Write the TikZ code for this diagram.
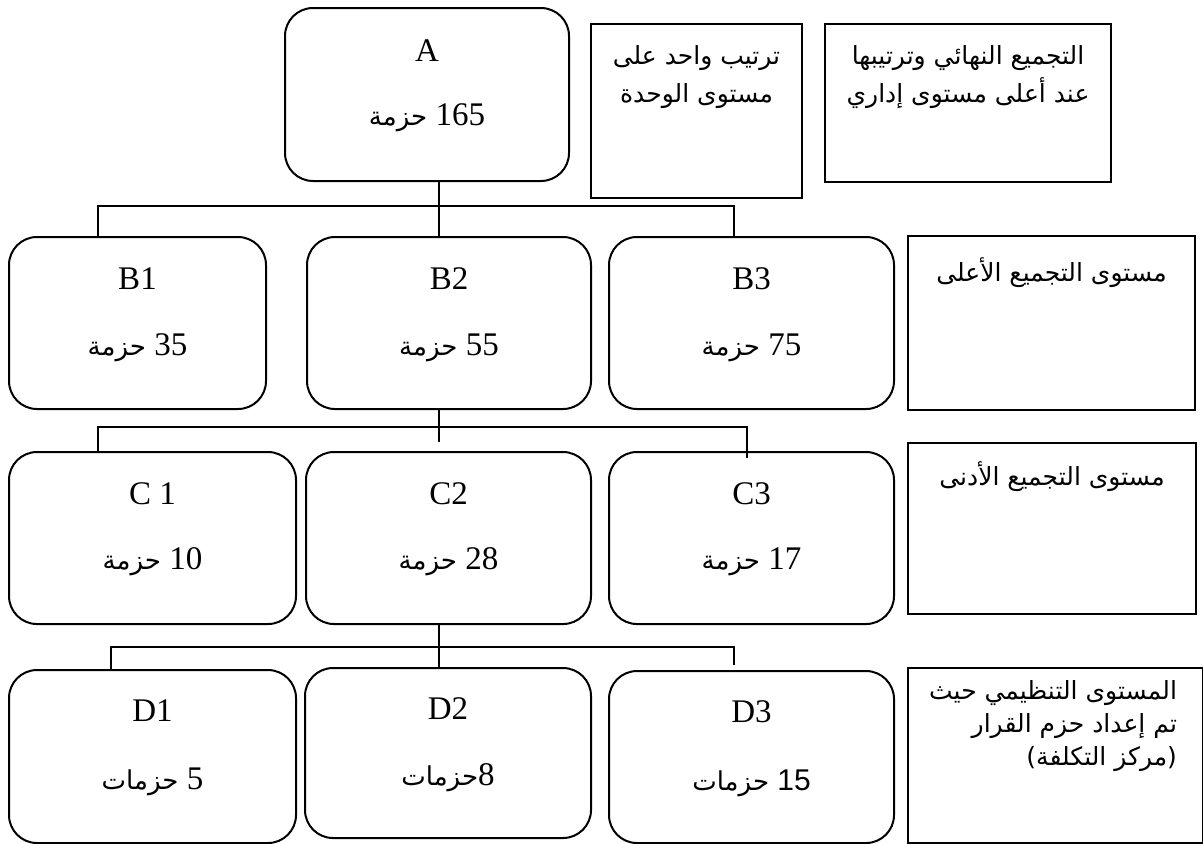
\documentclass[tikz,border=0pt]{standalone}
\usepackage{fontspec}
\setmainfont{Liberation Serif}
\newfontfamily\arabicfont[Script=Arabic]{DejaVu Sans}
\newfontfamily\numsans{Liberation Sans}
\TeXXeTstate=1
\usetikzlibrary{positioning}

\newcommand{\hzn}[1]{\beginL{\rmfamily\fontsize{16.5}{20}\selectfont #1}\endL}

\tikzset{
  lvl/.style={draw, line width=1pt, rounded corners=14pt, anchor=north west, inner sep=0pt},
  note/.style={draw, line width=1pt, anchor=north west, inner sep=0pt},
  ttl/.style={anchor=base, font=\fontsize{16.5}{20}\selectfont},
  num/.style={anchor=base, font=\arabicfont\fontsize{13}{16}\selectfont},
  notetxt/.style={anchor=north, align=center, font=\arabicfont\fontsize{12.5}{19}\selectfont},
  link/.style={line width=1pt},
}

\begin{document}
\begin{tikzpicture}[x=0.5pt, y=-0.5pt]
  \useasboundingbox (0,0) rectangle (1203,843);

  % top of the tree
  \node[lvl, minimum width=142pt, minimum height=86.5pt] (a) at (284,7) {};
  \node[ttl] (a-t) at ([yshift=-27pt]a.north) {A};
  \node[num] (a-n) at ([yshift=-59pt]a.north) {\beginR\hzn{165}{} حزمة\endR};

  % notes beside the top box
  \node[note, minimum width=105.5pt, minimum height=87pt] (n1) at (590,23) {};
  \node[notetxt] (n1-t) at ([yshift=-7.5pt]n1.north) {\beginR ترتيب واحد على\endR\\ \beginR مستوى الوحدة\endR};
  \node[note, minimum width=143pt, minimum height=79pt] (n2) at (824,23) {};
  \node[notetxt] (n2-t) at ([yshift=-7.5pt]n2.north) {\beginR التجميع النهائي وترتيبها\endR\\ \beginR عند أعلى مستوى إداري\endR};

  % level B
  \node[lvl, minimum width=128.5pt, minimum height=86pt] (b1) at (8,236) {};
  \node[lvl, minimum width=142pt, minimum height=86pt] (b2) at (306,236) {};
  \node[lvl, minimum width=142.5pt, minimum height=86pt] (b3) at (608,236) {};
  \node[ttl] (b1-t) at ([yshift=-26.5pt]b1.north) {B1};
  \node[ttl] (b2-t) at ([yshift=-26.5pt]b2.north) {B2};
  \node[ttl] (b3-t) at ([yshift=-26.5pt]b3.north) {B3};
  \node[num] (b1-n) at ([yshift=-59.5pt]b1.north) {\beginR\hzn{35}{} حزمة\endR};
  \node[num] (b2-n) at ([yshift=-59.5pt]b2.north) {\beginR\hzn{55}{} حزمة\endR};
  \node[num] (b3-n) at ([yshift=-59.5pt]b3.north) {\beginR\hzn{75}{} حزمة\endR};
  \node[note, minimum width=143.5pt, minimum height=87pt] (nb) at (907,235) {};
  \node[notetxt] (nb-t) at ([yshift=-8pt]nb.north) {\beginR مستوى التجميع الأعلى\endR};

  % level C
  \node[lvl, minimum width=143.5pt, minimum height=86pt] (c1) at (8,451) {};
  \node[lvl, minimum width=142.5pt, minimum height=86pt] (c2) at (305,451) {};
  \node[lvl, minimum width=142.5pt, minimum height=86pt] (c3) at (608,451) {};
  \node[ttl] (c1-t) at ([yshift=-26.5pt]c1.north) {C 1};
  \node[ttl] (c2-t) at ([yshift=-26.5pt]c2.north) {C2};
  \node[ttl] (c3-t) at ([yshift=-26.5pt]c3.north) {C3};
  \node[num] (c1-n) at ([yshift=-59pt]c1.north) {\beginR\hzn{10}{} حزمة\endR};
  \node[num] (c2-n) at ([yshift=-59pt]c2.north) {\beginR\hzn{28}{} حزمة\endR};
  \node[num] (c3-n) at ([yshift=-59pt]c3.north) {\beginR\hzn{17}{} حزمة\endR};
  \node[note, minimum width=144pt, minimum height=85.5pt] (nc) at (907,442) {};
  \node[notetxt] (nc-t) at ([yshift=-6.5pt]nc.north) {\beginR مستوى التجميع الأدنى\endR};

  % level D
  \node[lvl, minimum width=143.5pt, minimum height=86.5pt] (d1) at (8,669) {};
  \node[lvl, minimum width=143pt, minimum height=85pt] (d2) at (304,667) {};
  \node[lvl, minimum width=142.5pt, minimum height=86pt] (d3) at (608,670) {};
  \node[ttl] (d1-t) at ([yshift=-26pt]d1.north) {D1};
  \node[ttl] (d2-t) at ([yshift=-26pt]d2.north) {D2};
  \node[ttl] (d3-t) at ([yshift=-26pt]d3.north) {D3};
  \node[num] (d1-n) at ([yshift=-60pt]d1.north) {\beginR\hzn{5}{} حزمات\endR};
  \node[num] (d2-n) at ([yshift=-59pt]d2.north) {\beginR\hzn{8}حزمات\endR};
  \node[num] (d3-n) at ([yshift=-60pt]d3.north) {\beginR\beginL{\numsans\fontsize{15}{18}\selectfont 15}\endL{} حزمات\endR};
  \node[note, minimum width=147.5pt, minimum height=87.5pt] (nd) at (907,667) {};
  \node[notetxt, anchor=north east, align=right, font=\arabicfont\fontsize{12.5}{16.5}\selectfont] (nd-t) at ([xshift=-10pt, yshift=-3pt]nd.north east)
    {\beginR المستوى التنظيمي حيث\endR\\ \beginR تم إعداد حزم القرار\endR\\ \beginR(\kern0pt مركز التكلفة\kern0pt)\endR};

  % A to B
  \coordinate (ab-l) at (98,206);
  \coordinate (ab-m) at (439,206);
  \coordinate (ab-r) at (734,206);
  \draw[link] (ab-l |- b1.north) -- (ab-l) -- (ab-r) -- (ab-r |- b3.north);
  \draw[link] (ab-m |- a.south) -- (ab-m |- b2.north);

  % B to C
  \coordinate (bc-l) at (98,427);
  \coordinate (bc-r) at (747,427);
  \coordinate (bc-e) at (747,458);
  \coordinate (bc-d) at (439,442);
  \draw[link] (bc-l |- c1.north) -- (bc-l) -- (bc-r) -- (bc-e);
  \draw[link] (bc-d |- b2.south) -- (bc-d);

  % C to D
  \coordinate (cd-l) at (111,647);
  \coordinate (cd-r) at (734,647);
  \coordinate (cd-e) at (734,665);
  \coordinate (cd-m) at (439,647);
  \draw[link] (cd-l |- d1.north) -- (cd-l) -- (cd-r) -- (cd-e);
  \draw[link] (cd-m |- c2.south) -- (cd-m |- d2.north);
\end{tikzpicture}
\end{document}
